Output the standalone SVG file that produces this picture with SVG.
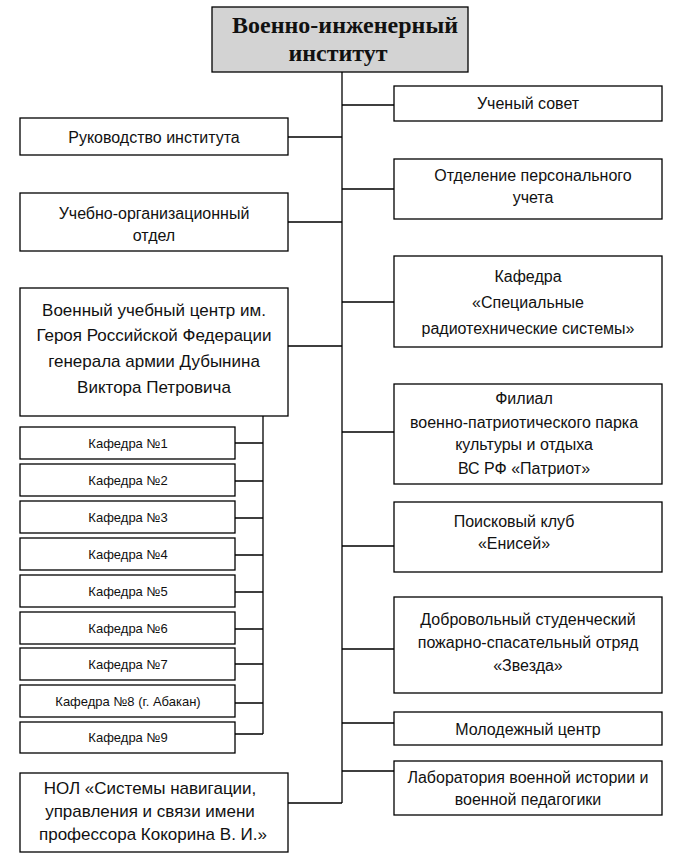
<svg xmlns="http://www.w3.org/2000/svg" width="690" height="861" viewBox="0 0 690 861">
<style>
.b{fill:#fff;stroke:#000;stroke-width:1.3}
.t{fill:#d3d3d3;stroke:#000;stroke-width:1.3}
.c{fill:none;stroke:#000;stroke-width:1.3}
text{font-family:"Liberation Sans",Arial,sans-serif;font-size:16px;fill:#111;text-anchor:middle}
.s{font-size:13px}
.l{font-size:17px}
.h{font-family:"Liberation Serif","Times New Roman",serif;font-size:24px;font-weight:bold}
</style>
<rect width="690" height="861" fill="#fff"/>
<g id="connectors">
<path class="c" d="M342 72V803"/>
<path class="c" d="M342 105H394M342 189H394M342 302H394M342 432H394M342 546H394M342 649H394M342 723H394M342 771H394"/>
<path class="c" d="M288 137H342M288 222H342M288 346H342M288 803H342"/>
<path class="c" d="M263 416V734"/>
<path class="c" d="M235 443H263M235 481H263M235 518H263M235 555H263M235 592H263M235 629H263M235 664H263M235 703H263M235 734H263"/>
</g>
<g id="root"><rect class="t" x="212" y="7" width="256" height="65"/><text class="h" x="345" y="33">Военно-инженерный</text><text class="h" x="338" y="61">институт</text></g>
<g id="r1"><rect class="b" x="394" y="86" width="268" height="35"/><text x="528" y="109">Ученый совет</text></g>
<g id="r2"><rect class="b" x="394" y="159" width="268" height="60"/><text x="533" y="181">Отделение персонального</text><text x="533" y="203">учета</text></g>
<g id="r3"><rect class="b" x="394" y="256" width="268" height="91"/><text x="528" y="282">Кафедра</text><text x="528" y="308">«Специальные</text><text x="528" y="334">радиотехнические системы»</text></g>
<g id="r4"><rect class="b" x="394" y="384" width="268" height="100"/><text x="524" y="404">Филиал</text><text x="524" y="428">военно-патриотического парка</text><text x="524" y="450">культуры и отдыха</text><text x="524" y="474">ВС РФ «Патриот»</text></g>
<g id="r5"><rect class="b" x="394" y="502" width="268" height="70"/><text x="514" y="527">Поисковый клуб</text><text x="514" y="549">«Енисей»</text></g>
<g id="r6"><rect class="b" x="394" y="597" width="268" height="96"/><text x="528" y="625">Добровольный студенческий</text><text x="528" y="648">пожарно-спасательный отряд</text><text x="528" y="671">«Звезда»</text></g>
<g id="r7"><rect class="b" x="394" y="712" width="268" height="33"/><text x="528" y="735">Молодежный центр</text></g>
<g id="r8"><rect class="b" x="394" y="761" width="268" height="54"/><text x="528" y="783">Лаборатория военной истории и</text><text x="528" y="805">военной педагогики</text></g>
<g id="l1"><rect class="b" x="20" y="118" width="268" height="37"/><text x="154" y="143">Руководство института</text></g>
<g id="l2"><rect class="b" x="20" y="193" width="268" height="58"/><text x="154" y="219">Учебно-организационный</text><text x="154" y="241">отдел</text></g>
<g id="l3"><rect class="b" x="20" y="288" width="268" height="128"/><text class="l" x="154" y="316">Военный учебный центр им.</text><text class="l" x="154" y="341">Героя Российской Федерации</text><text class="l" x="154" y="367">генерала  армии Дубынина</text><text class="l" x="154" y="393">Виктора Петровича</text></g>
<g id="k1"><rect class="b" x="20" y="427" width="215" height="32"/><text class="s" x="128" y="448">Кафедра №1</text></g>
<g id="k2"><rect class="b" x="20" y="464" width="215" height="32"/><text class="s" x="128" y="485">Кафедра №2</text></g>
<g id="k3"><rect class="b" x="20" y="501" width="215" height="32"/><text class="s" x="128" y="522">Кафедра №3</text></g>
<g id="k4"><rect class="b" x="20" y="538" width="215" height="32"/><text class="s" x="128" y="559">Кафедра №4</text></g>
<g id="k5"><rect class="b" x="20" y="575" width="215" height="32"/><text class="s" x="128" y="596">Кафедра №5</text></g>
<g id="k6"><rect class="b" x="20" y="612" width="215" height="32"/><text class="s" x="128" y="633">Кафедра №6</text></g>
<g id="k7"><rect class="b" x="20" y="648" width="215" height="32"/><text class="s" x="128" y="669">Кафедра №7</text></g>
<g id="k8"><rect class="b" x="20" y="685" width="215" height="32"/><text class="s" x="128" y="706">Кафедра №8 (г. Абакан)</text></g>
<g id="k9"><rect class="b" x="20" y="722" width="215" height="31"/><text class="s" x="128" y="742">Кафедра №9</text></g>
<g id="l4"><rect class="b" x="20" y="773" width="268" height="79"/><text class="l" x="150" y="794">НОЛ «Системы навигации,</text><text class="l" x="150" y="817">управления и связи имени</text><text class="l" x="153" y="840">профессора Кокорина В. И.»</text></g>
</svg>
